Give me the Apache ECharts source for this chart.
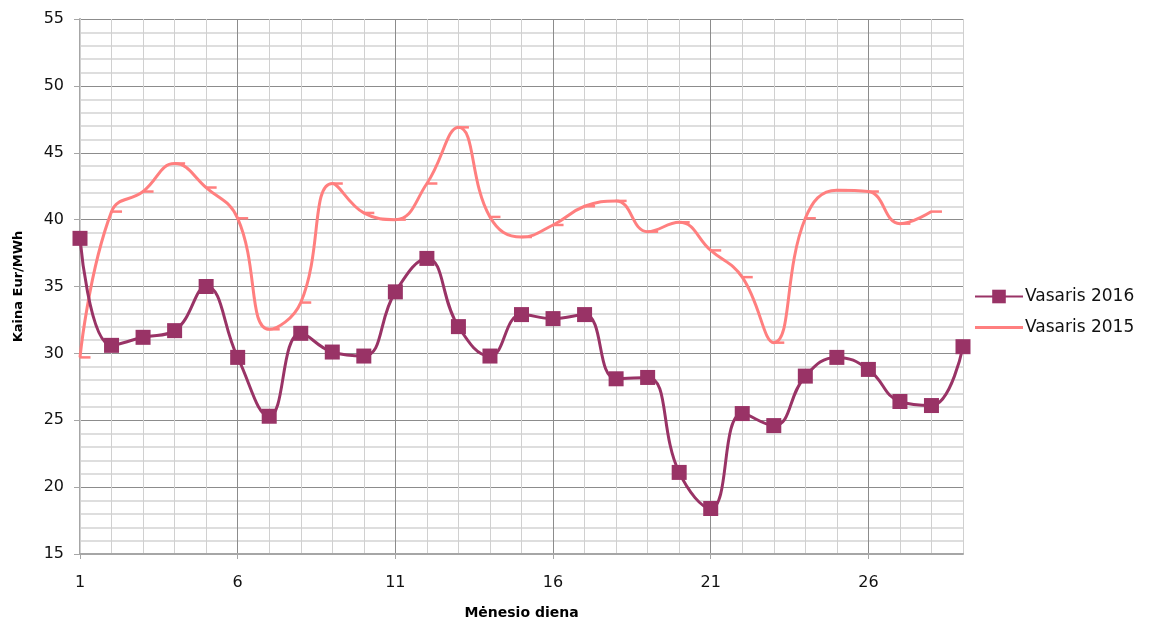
<!DOCTYPE html>
<html>
<head>
<meta charset="utf-8">
<script src="https://cdn.jsdelivr.net/npm/echarts@6/dist/echarts.min.js"></script>
<style>
  html, body { margin: 0; padding: 0; background: #fff; }
  #chart { width: 1157px; height: 621px; }
</style>
</head>
<body>
<div id="chart"></div>
<script>
// Days of the month (February)
const days = [1,2,3,4,5,6,7,8,9,10,11,12,13,14,15,16,17,18,19,20,21,22,23,24,25,26,27,28,29];

// Daily price, Eur/MWh
const vasaris2016 = [38.6,30.6,31.2,31.7,35.0,29.7,25.3,31.5,30.1,29.8,34.6,37.1,32.0,29.8,32.9,32.6,32.9,28.1,28.2,21.1,18.4,25.5,24.6,28.3,29.7,28.8,26.4,26.1,30.5];
const vasaris2015 = [29.7,40.6,42.1,44.2,42.4,40.1,31.8,33.8,42.7,40.5,40.0,42.7,46.9,40.2,38.7,39.6,41.0,41.4,39.1,39.8,37.7,35.7,30.8,40.1,42.2,42.1,39.7,40.6];

const yTicks = { min: 15, max: 55, step: 5 };
const seriesNames = ['Vasaris 2016', 'Vasaris 2015'];

const FONT = 'DejaVu Sans';
const chart = echarts.init(document.getElementById('chart'), null, { renderer: 'canvas' });

const categories = days.map(String);
const majorDay = (i) => i % 5 === 0;

chart.setOption({
  animation: false,
  backgroundColor: '#ffffff',
  textStyle: { fontFamily: FONT, color: '#000' },
  grid: { left: 80, right: 194, top: 19, bottom: 67, containLabel: false, outerBoundsMode: 'none' },
  legend: {
    orient: 'vertical',
    left: 969,
    top: 283,
    itemWidth: 48,
    itemHeight: 17,
    itemGap: 14,
    textStyle: { fontFamily: FONT, fontSize: 17, color: '#111', padding: [0, 0, 0, -3] },
    data: [
      { name: seriesNames[0] },
      { name: seriesNames[1], icon: 'path://M0,0h48v3h-48z' }
    ]
  },
  xAxis: [
    {
      type: 'category',
      data: categories,
      boundaryGap: false,
      name: 'Mėnesio diena',
      nameLocation: 'middle',
      nameGap: 52,
      nameTextStyle: { fontFamily: FONT, fontSize: 14, fontWeight: 'bold', color: '#000' },
      axisLine: { lineStyle: { color: '#a6a6a6', width: 2 } },
      axisTick: { show: true, length: 5, interval: majorDay, lineStyle: { color: '#a6a6a6', width: 1 } },
      axisLabel: { interval: majorDay, fontFamily: FONT, fontSize: 16, color: '#111', margin: 21 },
      splitLine: { show: true, interval: (i) => majorDay(i) && i > 0, lineStyle: { color: '#8c8c8c', width: 1 } },
      z: 3
    },
    {
      type: 'category',
      data: categories,
      boundaryGap: false,
      position: 'bottom',
      axisLine: { show: false },
      axisTick: { show: false },
      axisLabel: { show: false },
      splitLine: { show: true, interval: 0, lineStyle: { color: '#d0d0d0', width: 1 } },
      z: 1
    }
  ],
  yAxis: {
    type: 'value',
    min: yTicks.min,
    max: yTicks.max,
    interval: yTicks.step,
    name: 'Kaina Eur/MWh',
    nameLocation: 'middle',
    nameGap: 55,
    nameRotate: 90,
    nameTextStyle: { fontFamily: FONT, fontSize: 13, fontWeight: 'bold', color: '#000' },
    axisLine: { show: true, lineStyle: { color: '#a6a6a6', width: 2 } },
    axisTick: { show: true, length: 6, lineStyle: { color: '#a6a6a6' } },
    axisLabel: { fontFamily: FONT, fontSize: 16, color: '#111', margin: 16 },
    splitLine: { show: true, lineStyle: { color: '#8c8c8c', width: 1 } },
    minorTick: { show: false, splitNumber: 5 },
    minorSplitLine: { show: true, lineStyle: { color: '#d4d4d4', width: 1.5 } }
  },
  series: [
    {
      name: seriesNames[0],
      type: 'line',
      data: vasaris2016,
      smooth: 0.45,
      symbol: 'rect',
      symbolSize: 15,
      lineStyle: { color: '#993366', width: 3 },
      itemStyle: { color: '#993366' },
      z: 5
    },
    {
      name: seriesNames[1],
      type: 'line',
      data: vasaris2015,
      smooth: 0.45,
      symbol: 'rect',
      symbolSize: [11, 2.5],
      symbolOffset: [5, 0],
      lineStyle: { color: '#ff7f7f', width: 3 },
      itemStyle: { color: '#ff7f7f' },
      z: 4
    }
  ]
});
</script>
</body>
</html>
